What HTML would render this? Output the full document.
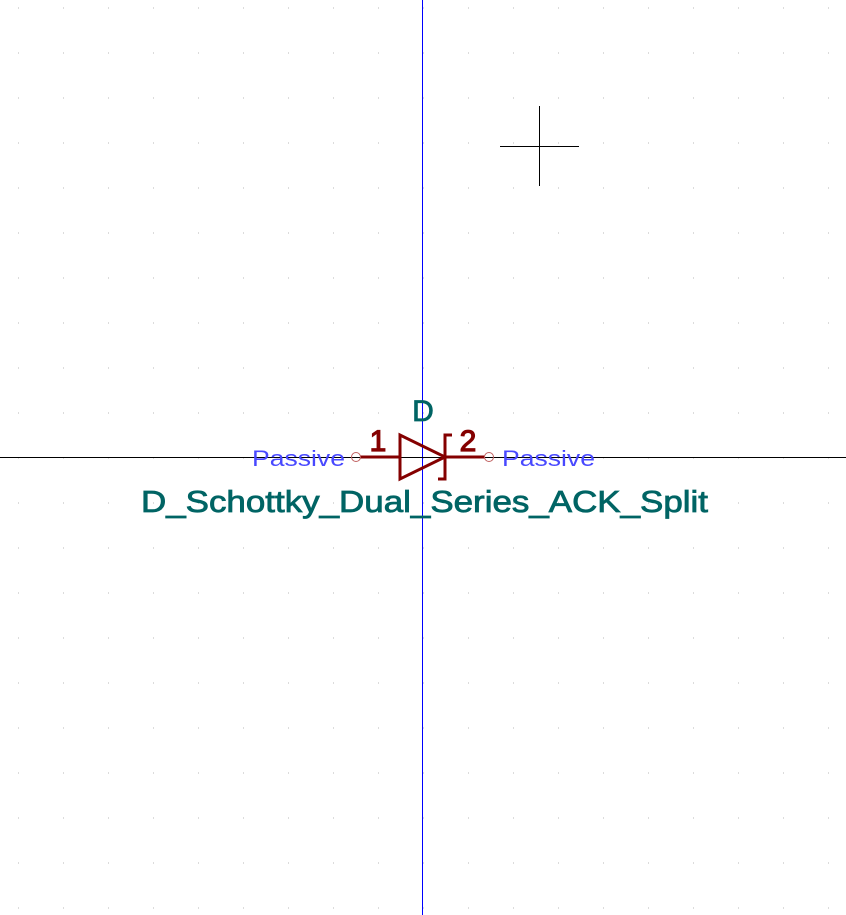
<!DOCTYPE html>
<html><head><meta charset="utf-8"><style>
html,body{margin:0;padding:0;background:#fff;}
svg{display:block;}
text{font-family:"Liberation Sans",sans-serif;}
</style></head><body>
<svg width="846" height="915" viewBox="0 0 846 915" xmlns="http://www.w3.org/2000/svg">
<g id="grid"></g>
<line x1="422.5" y1="0" x2="422.5" y2="915" stroke="#0000ff" stroke-width="1"/>
<line x1="0" y1="457.5" x2="846" y2="457.5" stroke="#000" stroke-width="1"/>
<g stroke="#000" stroke-width="1">
<line x1="539.5" y1="106" x2="539.5" y2="186"/><line x1="500" y1="146.5" x2="579" y2="146.5"/>
</g>
<g stroke="#840000" stroke-width="3" fill="none">
<line x1="360" y1="457" x2="400" y2="457"/>
<line x1="445" y1="457" x2="485" y2="457"/>
<polygon points="400,435 400,479 445,457"/>
<polyline points="452,435 445,435 445,479 438,479"/>
</g>
<circle cx="356" cy="457" r="4.5" fill="none" stroke="#c06060" stroke-width="1"/>
<circle cx="489" cy="457" r="4.5" fill="none" stroke="#c06060" stroke-width="1"/>
<text x="378" y="451" font-size="30" fill="#840000" stroke="#840000" stroke-width="1.2" text-anchor="middle">1</text>
<text x="468" y="451" font-size="30" fill="#840000" stroke="#840000" stroke-width="1.2" text-anchor="middle">2</text>
<text x="252" y="466" font-size="22" fill="#4848ff" textLength="93" lengthAdjust="spacingAndGlyphs">Passive</text>
<text x="502" y="466" font-size="22" fill="#4848ff" textLength="93" lengthAdjust="spacingAndGlyphs">Passive</text>
<text x="423" y="421" font-size="30" fill="#006464" stroke="#006464" stroke-width="0.8" text-anchor="middle">D</text>
<text x="141" y="512" font-size="31" fill="#006464" stroke="#006464" stroke-width="0.8" textLength="567" lengthAdjust="spacingAndGlyphs">D_Schottky_Dual_Series_ACK_Split</text>
</svg>
<script>
const g=document.getElementById('grid');
let s='';
for(let y=7.5;y<915;y+=45){for(let x=18;x<846;x+=45){s+=`<rect x="${x}" y="${y}" width="1" height="1" fill="#b8b8b8"/>`;}}
g.innerHTML=s;
</script>
</body></html>
